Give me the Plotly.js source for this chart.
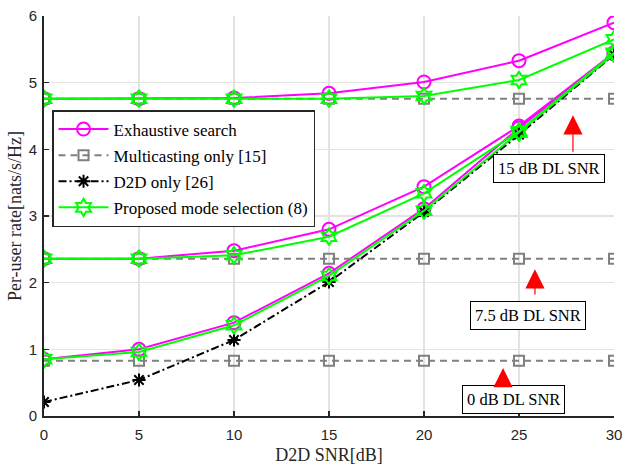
<!DOCTYPE html>
<html><head><meta charset="utf-8">
<script src="https://cdn.plot.ly/plotly-3.0.1.min.js"></script>
<style>html,body{margin:0;padding:0;background:#fff}</style>
</head><body>
<div id="chart" style="width:623px;height:466px"></div>
<script>
// D2D SNR [dB]
const snr = [0, 5, 10, 15, 20, 25, 30];
// Exhaustive search for DL SNR 0, 7.5, 15 dB
const exh0   = [0.85, 1.00, 1.40, 2.14, 3.11, 4.32, 5.43];
const exh75  = [2.36, 2.36, 2.48, 2.80, 3.44, 4.35, 5.45];
const exh15  = [4.76, 4.76, 4.77, 4.84, 5.01, 5.33, 5.90];
// Multicasting only [15]
const mc0  = [0.83, 0.83, 0.83, 0.83, 0.83, 0.83, 0.83];
const mc75 = [2.36, 2.36, 2.36, 2.36, 2.36, 2.36, 2.36];
const mc15 = [4.76, 4.76, 4.76, 4.76, 4.76, 4.76, 4.76];
// D2D only [26]
const d2d = [0.21, 0.54, 1.14, 2.01, 3.06, 4.22, 5.42];
// Proposed mode selection (8)
const prop0  = [0.85, 0.96, 1.36, 2.10, 3.08, 4.25, 5.43];
const prop75 = [2.36, 2.36, 2.41, 2.69, 3.34, 4.27, 5.45];
const prop15 = [4.76, 4.76, 4.76, 4.76, 4.80, 5.04, 5.65];

const names = ['Exhaustive search', 'Multicasting only [15]', 'D2D only [26]', 'Proposed mode selection (8)'];
const xTicks = [0, 5, 10, 15, 20, 25, 30];
const yTicks = [0, 1, 2, 3, 4, 5, 6];
const noteTexts = ['15 dB DL SNR', '7.5 dB DL SNR', '0 dB DL SNR'];

function join(arrs) {
  const xs = [], ys = [];
  arrs.forEach((a, i) => {
    if (i > 0) { xs.push(null); ys.push(null); }
    snr.forEach((x, j) => { xs.push(x); ys.push(a[j]); });
  });
  return {x: xs, y: ys};
}

const exh = join([exh0, exh75, exh15]);
const mc = join([mc0, mc75, mc15]);
const prop = join([prop0, prop75, prop15]);

const traces = [
  {x: exh.x, y: exh.y, name: names[0], legendgroup: 'a', mode: 'lines+markers', connectgaps: false,
   line: {color: '#ff00ff', width: 2},
   marker: {symbol: 'circle-open', size: 13, color: '#ff00ff', line: {width: 2, color: '#ff00ff'}}},
  {x: mc.x, y: mc.y, name: names[1], legendgroup: 'b', mode: 'lines+markers', connectgaps: false,
   line: {color: '#808080', width: 2, dash: '7px,5px'},
   marker: {symbol: 'square-open', size: 10, color: '#808080', line: {width: 2, color: '#808080'}}},
  {x: snr, y: d2d, name: names[2], legendgroup: 'c', mode: 'lines+markers',
   line: {color: '#000000', width: 2, dash: '8px,3px,2px,3px'},
   marker: {symbol: 'asterisk-open', size: 11, color: '#000000', line: {width: 2, color: '#000000'}}},
  {x: prop.x, y: prop.y, name: names[3], legendgroup: 'd', mode: 'lines+markers', connectgaps: false,
   line: {color: '#00ff00', width: 2},
   marker: {symbol: 'hexagram-open', size: 13, color: '#00ff00', line: {width: 2, color: '#00ff00'}}}
];

// annotation placement (data coords)
const boxPos = [[26.6, 3.71], [25.47, 1.51], [24.71, 0.255]];
const arrowPos = [[27.84, 4.51, 3.94], [25.84, 2.20, 1.80], [24.16, 0.72, 0.46]];

const annotations = [];
noteTexts.forEach((t, i) => {
  annotations.push({x: boxPos[i][0], y: boxPos[i][1], xref: 'x', yref: 'y', text: t, showarrow: false,
    font: {family: 'Liberation Serif, serif', size: 16.5, color: '#000'},
    bgcolor: '#ffffff', bordercolor: '#000000', borderwidth: 1, borderpad: 4});
  annotations.push({x: arrowPos[i][0], y: arrowPos[i][1], ax: arrowPos[i][0], ay: arrowPos[i][2],
    xref: 'x', yref: 'y', axref: 'x', ayref: 'y', text: '', showarrow: true,
    arrowcolor: '#ff0000', arrowwidth: 1.2, arrowhead: 2, arrowsize: 3.2, standoff: 0, startstandoff: 0});
});

const layout = {
  width: 623, height: 466,
  margin: {l: 44, r: 9, t: 16, b: 50},
  paper_bgcolor: '#fff', plot_bgcolor: '#fff',
  showlegend: true,
  legend: {x: 0.0141, y: 0.765, xanchor: 'left', yanchor: 'top',
    bgcolor: '#ffffff', bordercolor: '#262626', borderwidth: 1.5,
    font: {family: 'Liberation Serif, serif', size: 17, color: '#000'},
    traceorder: 'grouped', tracegroupgap: 1, itemwidth: 50},
  xaxis: {range: [0, 30], tickvals: xTicks, ticktext: xTicks.map(String),
    showgrid: true, gridcolor: '#e3e3e3', gridwidth: 1.5,
    showline: true, linecolor: '#262626', linewidth: 2,
    ticks: 'inside', ticklen: 5, tickwidth: 1.5, tickcolor: '#262626',
    zeroline: false, mirror: false, ticklabelstandoff: 4,
    tickfont: {family: 'Liberation Sans, Arial, sans-serif', size: 15, color: '#262626'},
    title: {text: 'D2D SNR[dB]', font: {family: 'Liberation Serif, serif', size: 18, color: '#262626'}, standoff: 6}},
  yaxis: {range: [0, 6], tickvals: yTicks, ticktext: yTicks.map(String),
    showgrid: true, gridcolor: '#e3e3e3', gridwidth: 1.5,
    showline: true, linecolor: '#262626', linewidth: 2,
    ticks: 'inside', ticklen: 5, tickwidth: 1.5, tickcolor: '#262626',
    zeroline: false, mirror: false, ticklabelstandoff: 2,
    tickfont: {family: 'Liberation Sans, Arial, sans-serif', size: 15, color: '#262626'},
    title: {text: 'Per-user rate[nats/s/Hz]', font: {family: 'Liberation Serif, serif', size: 18, color: '#262626'}, standoff: 2}},
  annotations: annotations
};

Plotly.newPlot('chart', traces, layout, {displayModeBar: false, staticPlot: true});
</script>
</body></html>
